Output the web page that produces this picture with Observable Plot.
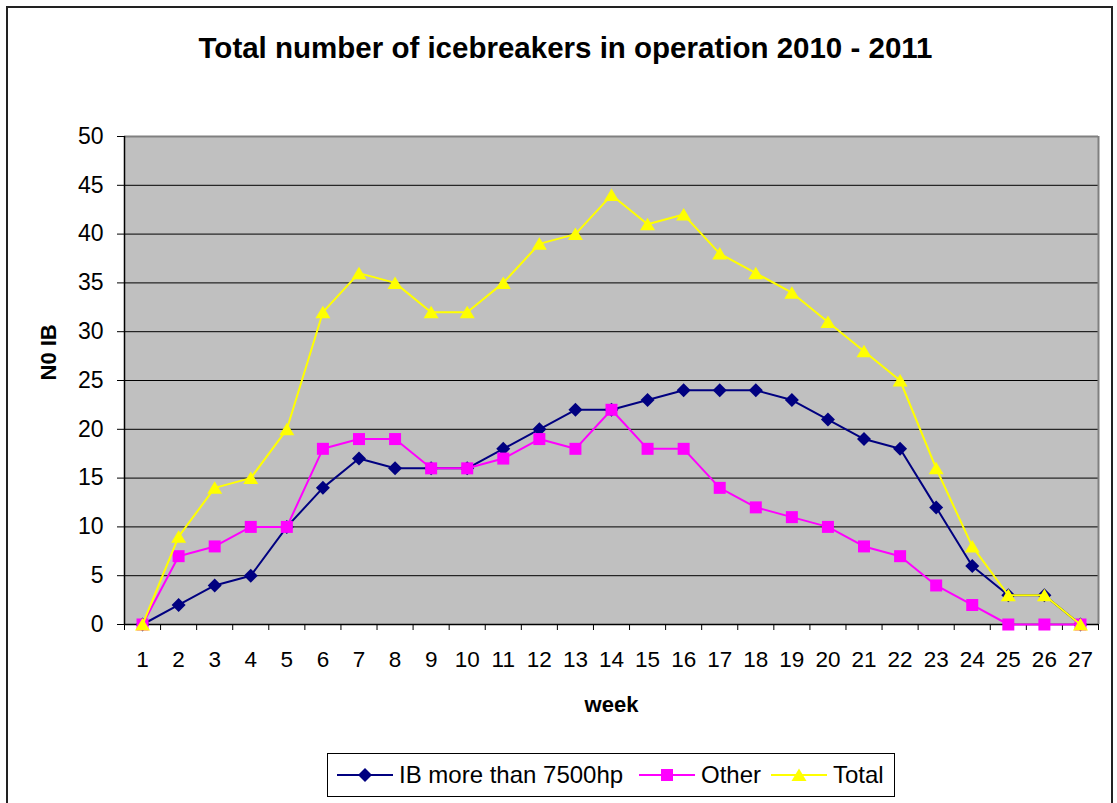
<!DOCTYPE html>
<html>
<head>
<meta charset="utf-8">
<script src="https://cdn.jsdelivr.net/npm/d3@7"></script>
<script src="https://cdn.jsdelivr.net/npm/@observablehq/plot@0.6"></script>
<style>
  html, body { margin: 0; padding: 0; background: #fff; }
  #wrap { position: relative; width: 1117px; height: 803px; overflow: hidden; font-family: 'Liberation Sans', Arial, sans-serif; }
  #wrap svg.plot { position: absolute; left: 0; top: 0; }
  #border { position: absolute; left: 6px; top: 6px; width: 1107px; height: 830px; border: 2px solid #222; box-sizing: border-box; pointer-events: none; }
  #legend { position: absolute; left: 327px; top: 753px; width: 568px; height: 44px; border: 1px solid #000; box-sizing: border-box; background: #fff; }
</style>
</head>
<body>
<div id="wrap">
  <div id="border"></div>
  <div id="chart"></div>
  <div id="legend"></div>
</div>
<script>
// ---- data ----
const weeks = [1,2,3,4,5,6,7,8,9,10,11,12,13,14,15,16,17,18,19,20,21,22,23,24,25,26,27];
const ibMore7500 = [0,2,4,5,10,14,17,16,16,16,18,20,22,22,23,24,24,24,23,21,19,18,12,6,3,3,0];
const other      = [0,7,8,10,10,18,19,19,16,16,17,19,18,22,18,18,14,12,11,10,8,7,4,2,0,0,0];
const total      = [0,9,14,15,20,32,36,35,32,32,35,39,40,44,41,42,38,36,34,31,28,25,16,8,3,3,0];
const yTicks = [0,5,10,15,20,25,30,35,40,45,50];
const seriesNames = ["IB more than 7500hp", "Other", "Total"];
const seriesColors = ["#000080", "#FF00FF", "#FFFF00"];
const titleText = "Total number of icebreakers in operation 2010 - 2011";
const xLabel = "week";
const yLabel = "N0 IB";

// ---- symbols ----
const diamondSym = { draw(ctx) { const h = 7; ctx.moveTo(0,-h); ctx.lineTo(h,0); ctx.lineTo(0,h); ctx.lineTo(-h,0); ctx.closePath(); } };
const squareSym  = { draw(ctx) { const h = 6; ctx.moveTo(-h,-h); ctx.lineTo(h,-h); ctx.lineTo(h,h); ctx.lineTo(-h,h); ctx.closePath(); } };
const triangleSym= { draw(ctx) { ctx.moveTo(0,-6.5); ctx.lineTo(7.5,6); ctx.lineTo(-7.5,6); ctx.closePath(); } };
const symbols = [diamondSym, squareSym, triangleSym];
const seriesValues = [ibMore7500, other, total];

const rows = vals => weeks.map((w, i) => ({week: w, value: vals[i]}));
const boundaries = weeks.map(w => w - 0.5).concat([weeks[weeks.length - 1] + 0.5]);

const seriesMarks = [];
seriesValues.forEach((vals, k) => {
  seriesMarks.push(Plot.line(rows(vals), {x: "week", y: "value", stroke: seriesColors[k], strokeWidth: 2}));
  seriesMarks.push(Plot.dot(rows(vals), {x: "week", y: "value", symbol: symbols[k], r: 5, fill: seriesColors[k], stroke: "none"}));
});

const chart = Plot.plot({
  width: 1117,
  height: 803,
  marginLeft: 124,
  marginRight: 19,
  marginTop: 136,
  marginBottom: 179,
  x: {type: "linear", domain: [0.5, 27.5]},
  y: {domain: [0, 50]},
  style: {fontFamily: "'Liberation Sans', Arial, sans-serif", fontSize: "22px", color: "#000", background: "transparent", overflow: "visible"},
  marks: [
    Plot.frame({fill: "#C0C0C0", stroke: "none"}),
    Plot.ruleY(yTicks.slice(1, -1), {stroke: "#000", strokeWidth: 1}),
    Plot.ruleY([50], {stroke: "#808080", strokeWidth: 2}),
    Plot.ruleX([27.5], {stroke: "#808080", strokeWidth: 2}),
    Plot.axisY({ticks: yTicks, tickSize: 7, tickPadding: 14, label: null, fontSize: 23}),
    Plot.axisX({ticks: boundaries, tickSize: 6, tickFormat: () => "", label: null}),
    Plot.axisX({ticks: weeks, tickSize: 0, tickPadding: 27, label: null, fontSize: 22.5}),
    Plot.ruleX([0.5], {stroke: "#000", strokeWidth: 1.5}),
    Plot.ruleY([0], {stroke: "#000", strokeWidth: 1.5}),
    ...seriesMarks,
    Plot.text([titleText], {text: d => d, frameAnchor: "top", dx: -46, dy: -88, fontSize: 29.5, fontWeight: "bold", lineAnchor: "middle"}),
    Plot.text([xLabel], {text: d => d, frameAnchor: "bottom", dy: 80, fontSize: 22, fontWeight: "bold", lineAnchor: "middle"}),
    Plot.text([yLabel], {text: d => d, frameAnchor: "left", dx: -76, rotate: -90, fontSize: 22, fontWeight: "bold", lineAnchor: "middle"})
  ]
});
chart.classList.add("plot");
document.getElementById("chart").appendChild(chart);

// ---- legend ----
const lg = d3.select("#legend").append("svg").attr("width", 566).attr("height", 42)
  .style("font-family", "'Liberation Sans', Arial, sans-serif").style("font-size", "24px");
const lineStarts = [9, 311, 443];
const textStarts = [71, 373, 505];
seriesNames.forEach((name, k) => {
  const g = lg.append("g");
  const x0 = lineStarts[k], cy = 21;
  g.append("line").attr("x1", x0).attr("x2", x0 + 56).attr("y1", cy).attr("y2", cy).attr("stroke", seriesColors[k]).attr("stroke-width", 2);
  const p = d3.path(); symbols[k].draw(p);
  g.append("path").attr("d", p.toString()).attr("transform", `translate(${x0 + 28},${cy})`).attr("fill", seriesColors[k]);
  g.append("text").attr("x", textStarts[k]).attr("y", cy).attr("dy", "0.35em").text(name);
});
</script>
</body>
</html>
